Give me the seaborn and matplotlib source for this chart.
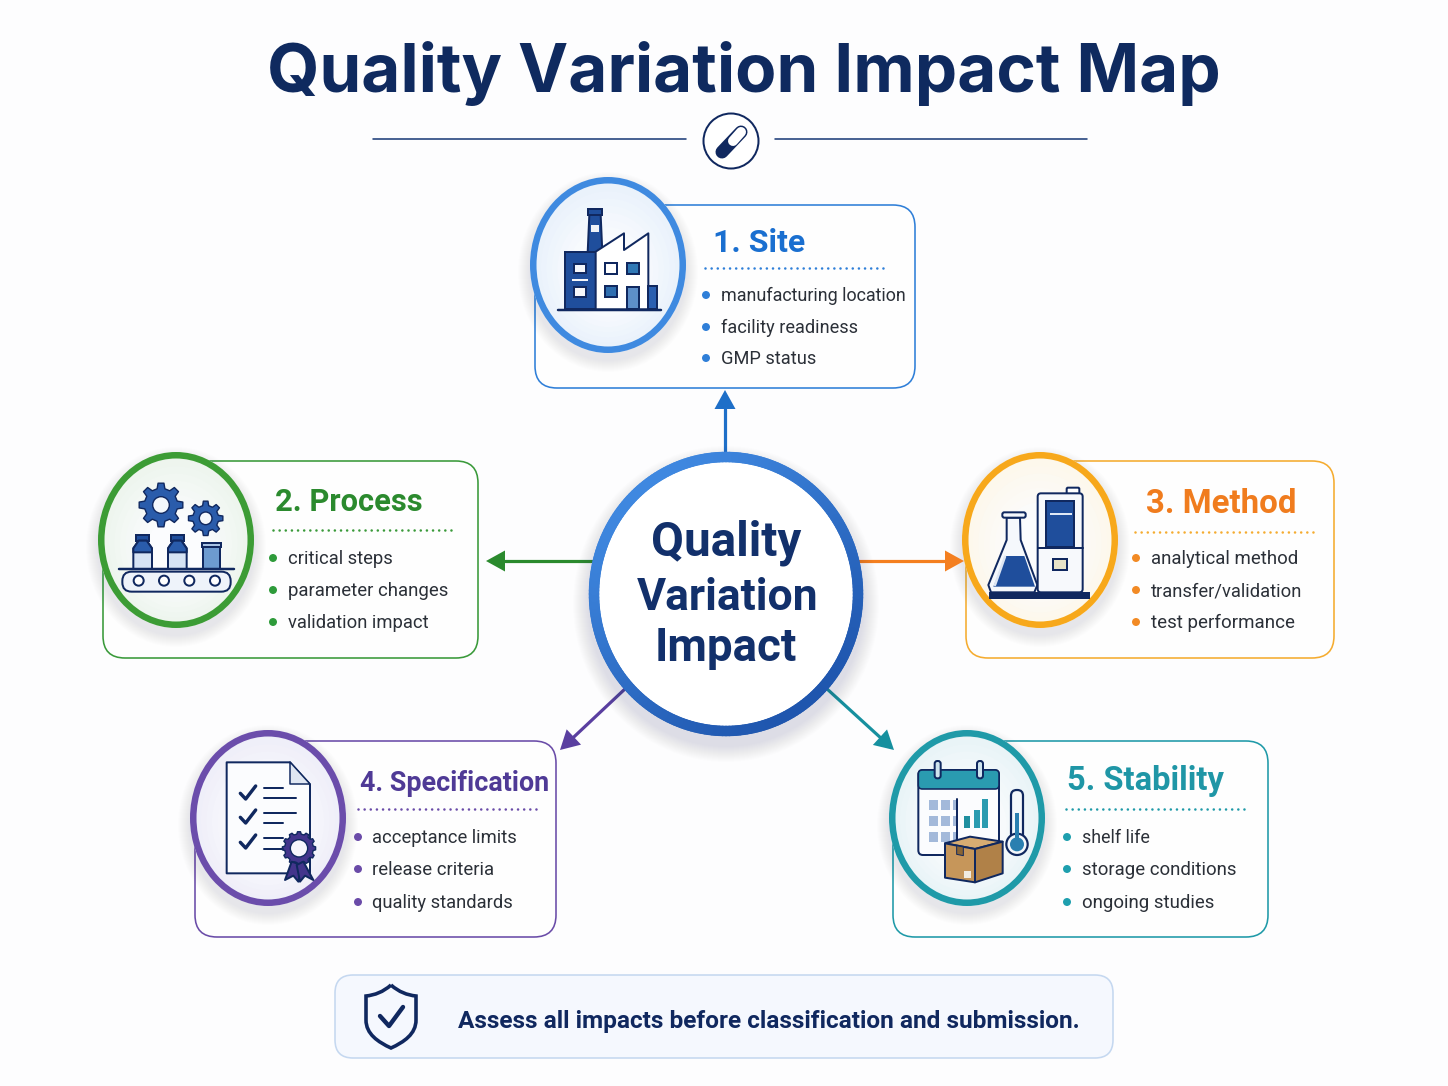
import numpy as np
import pandas as pd
import seaborn as sns
import matplotlib
matplotlib.use("Agg")
import matplotlib.pyplot as plt
from matplotlib.patches import Ellipse, FancyBboxPatch, Polygon, Rectangle, Circle, PathPatch
from matplotlib.path import Path
from matplotlib.collections import LineCollection
from matplotlib.colors import to_rgb

# ---------- content ----------
title = "Quality Variation Impact Map"
center_words = ["Quality", "Variation", "Impact"]
headings = ["1. Site", "2. Process", "3. Method", "4. Specification", "5. Stability"]
bullets_site = ["manufacturing location", "facility readiness", "GMP status"]
bullets_process = ["critical steps", "parameter changes", "validation impact"]
bullets_method = ["analytical method", "transfer/validation", "test performance"]
bullets_spec = ["acceptance limits", "release criteria", "quality standards"]
bullets_stability = ["shelf life", "storage conditions", "ongoing studies"]
footer = "Assess all impacts before classification and submission."

# ---------- styles ----------
BG = "#fdfdfe"
NAVY = "#10285f"; MID = "#1f4e9c"; INK = "#2b3038"
head_col = ["#1a6fd0", "#2b8a2e", "#f07c1e", "#4f3a96", "#1f96a6"]
ring_col = ["#3f8ae0", "#3c9c35", "#f7a81b", "#6b4dab", "#1f9aa8"]
edge_col = ["#2f7fd8", "#3a9a3a", "#f5ac30", "#6a4ca8", "#1f9aa8"]
dot_col = ["#2f7fd8", "#2e9b3a", "#f28a24", "#6a4ba8", "#1e9fae"]
tint = ["#e8f1fb", "#ecf4ec", "#fdf7ea", "#eeedf8", "#e7f3f6"]

sns.set_theme(style="white")
plt.rcParams["font.family"] = ["Inter", "DejaVu Sans"]

fig = plt.figure(figsize=(14.48, 10.86), dpi=100, facecolor=BG)
ax = fig.add_axes([0, 0, 1, 1])
ax.set_facecolor(BG)
renderer = fig.canvas.get_renderer()
px = 0.72


def text_fit(x0, x1, base, s, color, weight="normal", family=None):
    t = ax.text(x0, base, s, color=color, fontweight=weight, ha="left", va="baseline", fontsize=20, zorder=30)
    if family:
        t.set_family(family)
    w = t.get_window_extent(renderer).width
    t.set_fontsize(20 * (x1 - x0) / w)
    return t


def rr(x0, y0, x1, y1, r, fc, ec, lw, z=2):
    ax.add_patch(FancyBboxPatch((x0 + r, y0 + r), x1 - x0 - 2 * r, y1 - y0 - 2 * r,
                                boxstyle=f"round,pad={r}", fc=fc, ec=ec, lw=lw * px, zorder=z))


def shadow(cx, cy, rx, ry, color="#3a4a70", dy=7, n=12, a=0.007, z=3):
    for i in range(n):
        g = n - i
        ax.add_patch(Ellipse((cx, cy + dy), 2 * (rx + g), 2 * (ry + g), fc=color, ec="none", alpha=a, zorder=z))


def lerp(a, b, t):
    a, b = np.array(to_rgb(a)), np.array(to_rgb(b))
    return tuple(a + (b - a) * t)


def badge(cx, cy, rx, ry, col, fill):
    shadow(cx, cy, rx, ry)
    for i in range(10):
        k = 1 - i * 0.07
        ax.add_patch(Ellipse((cx, cy + i), 2 * rx * k, 2 * ry * k, fc=lerp(fill, "#fbfcfe", i / 9), ec="none", zorder=4))
    ax.add_patch(Ellipse((cx, cy), 2 * rx - 6.5, 2 * ry - 6.5, fc="none", ec=col, lw=6.5 * px, zorder=5))


# --- icon helpers: coordinates in a 3x local frame ---
class Icon:
    def __init__(self, ox, oy):
        self.ox, self.oy = ox, oy

    def p(self, x, y):
        return (self.ox + x / 3, self.oy + y / 3)

    def rect(self, x0, y0, x1, y1, fc, ec=NAVY, lw=2, z=10):
        a = self.p(x0, y0); b = self.p(x1, y1)
        ax.add_patch(Rectangle(a, b[0] - a[0], b[1] - a[1], fc=fc, ec=ec, lw=lw * px, zorder=z))

    def rrect(self, x0, y0, x1, y1, r, fc, ec=NAVY, lw=2, z=10):
        a = self.p(x0, y0); b = self.p(x1, y1)
        rr(a[0], a[1], b[0], b[1], r / 3, fc, ec, lw, z)

    def poly(self, pts, fc, ec=NAVY, lw=2, z=10, closed=True):
        ax.add_patch(Polygon([self.p(*q) for q in pts], closed=closed, fc=fc, ec=ec, lw=lw * px, zorder=z, joinstyle="round"))

    def line(self, pts, col=NAVY, lw=2.2, z=12):
        q = np.array([self.p(*v) for v in pts])
        ax.plot(q[:, 0], q[:, 1], color=col, lw=lw * px, zorder=z, solid_capstyle="round", solid_joinstyle="round")

    def circ(self, x, y, r, fc, ec=NAVY, lw=2, z=12):
        ax.add_patch(Circle(self.p(x, y), r / 3, fc=fc, ec=ec, lw=lw * px, zorder=z))

    def gear(self, x, y, ro, ri, hole, n, fc, hole_fc="#f4f8fc", ec=NAVY):
        pts = []
        for k in range(n):
            a = 2 * np.pi * k / n
            d = 2 * np.pi / n
            for off, r in [(-0.30, ri), (-0.17, ro), (0.17, ro), (0.30, ri)]:
                pts.append((x + r * np.cos(a + off * d), y + r * np.sin(a + off * d)))
        self.poly(pts, fc, ec=ec, lw=1.4)
        self.circ(x, y, hole, hole_fc, ec=ec, lw=1.4)


# ---------- title ----------
text_fit(267, 1222, 92, title, "#0f2a5f", "bold")
ax.plot([373, 686], [139, 139], color="#1f3f7a", lw=1.6 * px, zorder=2)
ax.plot([775, 1087], [139, 139], color="#1f3f7a", lw=1.6 * px, zorder=2)
ax.add_patch(Ellipse((731, 141), 55, 55, fc="white", ec=NAVY, lw=2 * px, zorder=3))
ax.plot([741, 722], [132, 152], color=NAVY, lw=13 * px, solid_capstyle="round", zorder=4)
ax.plot([741, 733], [132, 141], color="white", lw=10 * px, solid_capstyle="round", zorder=5)

# ---------- cards ----------
cards = [(535, 205, 915, 388), (103, 461, 478, 658), (966, 461, 1334, 658),
         (195, 741, 556, 937), (893, 741, 1268, 937)]
badges = [(608, 265), (176, 540), (1040, 540), (268, 818), (967, 818)]
head_span = [(713, 805, 252), (275, 422, 511), (1146, 1296, 513), (360, 549, 791), (1067, 1224, 790)]
dots_span = [(705, 888, 268), (273, 455, 530), (1135, 1316, 532), (358, 540, 809), (1066, 1247, 809)]
dot_x = [706, 273, 1136, 358, 1067]
text_x = [721, 288, 1151, 372, 1082]
rows = [(295, 327, 358), (558, 590, 622), (558, 590, 622), (837, 869, 902), (837, 869, 902)]
all_bullets = [bullets_site, bullets_process, bullets_method, bullets_spec, bullets_stability]
widths = [[184, 136, 95], [104, 160, 140], [147, 151, 143], [144, 122, 141], [68, 154, 132]]

bullet_rows = []
for i, (c, b) in enumerate(zip(cards, badges)):
    rr(c[0], c[1], c[2], c[3], 22, "#fefefe", edge_col[i], 1.6, z=2)
    # the card's top-left corner is open behind the badge
    ax.add_patch(Rectangle((c[0] - 3, c[1] - 3), b[0] - c[0] + 3, b[1] - c[1] + 3, fc=BG, ec="none", zorder=2.5))
    badge(b[0], b[1], 78, 88, ring_col[i], tint[i])
    hs = head_span[i]
    text_fit(hs[0], hs[1], hs[2], headings[i], head_col[i], "bold", family="Roboto")
    ds = dots_span[i]
    ax.plot([ds[0], ds[1]], [ds[2], ds[2]], color=edge_col[i], lw=2.6 * px, ls=(0, (0.01, 2.35)), zorder=6,
            dash_capstyle="round")
    for j, label in enumerate(all_bullets[i]):
        text_fit(text_x[i], text_x[i] + widths[i][j], rows[i][j] + 6, label, INK, family="Roboto")
        bullet_rows.append({"x": dot_x[i], "y": rows[i][j], "card": headings[i]})

bullet_df = pd.DataFrame(bullet_rows)
sns.scatterplot(data=bullet_df, x="x", y="y", hue="card", palette=dict(zip(headings, dot_col)),
                s=33, linewidth=0, legend=False, zorder=8, ax=ax)

# ---------- icons ----------
# factory
I = Icon(520, 170)
I.rect(203, 116, 247, 135, MID)
I.poly([(208, 135), (242, 135), (247, 248), (203, 248)], MID)
I.rect(212, 164, 238, 187, "#eef2f8", ec="none")
I.rect(135, 245, 227, 418, MID)
I.rect(163, 282, 198, 310, "#f5f7fb")
I.rect(163, 350, 198, 380, "#f5f7fb")
I.rect(157, 326, 204, 334, "#f5f7fb", ec="none")
I.poly([(227, 245), (312, 190), (312, 240), (385, 190), (385, 418), (227, 418)], "white")
I.rect(256, 280, 290, 313, "white")
I.rect(322, 280, 356, 313, "#2f78b5")
I.rect(256, 348, 290, 381, "#2f6fb0")
I.rect(322, 350, 356, 418, "#5d8fc9")
I.rect(385, 348, 410, 418, "#2a5fb0")
I.line([(115, 420), (422, 420)], lw=2.5)
# process
I = Icon(90, 445)
I.gear(213, 180, 66, 50, 25, 8, "#2a5cab")
I.gear(347, 220, 52, 39, 19, 8, "#2a5cab")
for x in (158, 262):
    I.rect(x - 20, 270, x + 20, 287, MID)
    I.poly([(x - 12, 287), (x + 12, 287), (x + 28, 310), (x + 28, 372), (x - 28, 372), (x - 28, 310)], "#d6e3f4")
    I.poly([(x - 12, 287), (x + 12, 287), (x + 28, 310), (x + 28, 322), (x - 28, 322), (x - 28, 310)], "#2a5cab", z=11)
I.rect(337, 293, 393, 307, "#a8c3e4")
I.rect(340, 307, 389, 372, "#6d9bd0")
I.line([(88, 373), (432, 373)], lw=2.5)
I.rrect(97, 380, 422, 440, 28, "#eef3fa")
for x in (146, 222, 298, 375):
    I.circ(x, 407, 15, "white", lw=2)
# method
I = Icon(955, 445)
I.rect(105, 445, 402, 460, NAVY, z=9)
I.poly([(155, 218), (195, 218), (197, 285), (247, 420), (238, 442), (108, 442), (100, 420), (155, 285)], "#f5f8fc", z=10)
I.poly([(152, 333), (208, 333), (240, 425), (115, 425)], MID, ec="none", z=11)
I.rrect(142, 202, 212, 218, 6, "#f5f8fc", z=12)
I.line([(150, 335), (120, 420)], col="#dde6f3", lw=2.5, z=13)
I.rrect(335, 128, 373, 150, 4, "white", z=9)
I.rrect(248, 145, 383, 442, 10, "#f7f9fc", z=10)
I.rect(272, 167, 358, 307, MID, z=11)
I.rect(285, 204, 350, 209, "#dfe8f5", ec="none", z=12)
I.line([(248, 310), (383, 310)], lw=2, z=12)
I.rect(295, 342, 335, 374, "#e8e4c8", lw=2, z=12)
# specification
I = Icon(185, 725)
I.poly([(125, 112), (315, 112), (375, 178), (375, 445), (125, 445)], "#fbfcfe", lw=2)
I.poly([(315, 112), (315, 178), (375, 178)], "#dfe6f2", lw=1.5, z=11)
for y in (205, 277, 352):
    I.line([(166, y), (182, y + 17), (212, y - 22)], lw=3.4)
for (x0, x1, y) in [(237, 295, 188), (237, 332, 218), (237, 332, 265), (237, 295, 295), (237, 295, 340), (237, 295, 372)]:
    I.line([(x0, y), (x1, y)], lw=2)
I.poly([(320, 410), (300, 465), (325, 452), (340, 470), (350, 420)], "#43358c", z=13)
I.poly([(355, 410), (385, 465), (360, 452), (345, 470), (335, 420)], "#43358c", z=13)
I.gear(342, 370, 50, 43, 26, 12, "#43358c", hole_fc="#f7f6fc")
# stability
I = Icon(880, 725)
I.rrect(115, 135, 357, 390, 14, "#fbfcfe", lw=2)
I.rrect(115, 135, 357, 192, 12, "#2a9bb0", lw=1.6, z=11)
I.rrect(164, 108, 182, 160, 8, "#cfe4ee", z=12)
I.rrect(291, 108, 309, 160, 8, "#cfe4ee", z=12)
for x0, x1 in [(147, 173), (183, 209), (219, 229)]:
    for y0 in (225, 272, 320):
        I.rect(x0, y0, x1, y0 + 30, "#a3b9da", ec="none", z=11)
I.line([(232, 222), (232, 350)], lw=2, z=12)
I.rect(253, 272, 270, 310, "#1f8f9f", ec="none", z=11)
I.rect(281, 255, 299, 310, "#2a9bb0", ec="none", z=11)
I.rect(307, 223, 325, 310, "#2a9bb0", ec="none", z=11)
I.poly([(195, 355), (270, 335), (368, 350), (285, 372)], "#d7ac72", z=14)
I.poly([(195, 355), (285, 372), (285, 472), (195, 458)], "#c6965a", z=14)
I.poly([(285, 372), (368, 350), (368, 445), (285, 472)], "#b08148", z=14)
I.poly([(230, 362), (250, 366), (250, 392), (230, 388)], "#8a6534", lw=1, z=15)
I.rect(252, 438, 274, 458, "#f1ece2", ec="none", z=15)
I.rrect(393, 195, 429, 345, 17, "#f4f8fb", lw=2.2, z=11)
I.circ(411, 358, 32, "#f4f8fb", lw=2.2, z=11)
I.rect(404, 265, 418, 345, "#2a7fb0", ec="none", z=12)
I.circ(411, 358, 21, "#2a7fb0", ec="none", z=12)


# ---------- arrows ----------
def arrow(x0, y0, x1, y1, col, hl=19, hw=21, lw=3.2):
    d = np.array([x1 - x0, y1 - y0], float)
    d /= np.hypot(*d)
    n = np.array([-d[1], d[0]])
    tip = np.array([x1, y1], float)
    base = tip - d * hl
    ax.plot([x0, base[0]], [y0, base[1]], color=col, lw=lw * px, zorder=7)
    ax.add_patch(Polygon([tip, base + n * hw / 2, base - n * hw / 2], fc=col, ec="none", zorder=7))


arrow(725, 464, 725, 390, "#1e6fc8")
arrow(594, 561, 486, 561, "#2b8a2e")
arrow(858, 561, 964, 561, "#f47f20")
arrow(626, 688, 560, 750, "#5a3fa0")
arrow(826, 688, 894, 750, "#16909f")

# ---------- centre ----------
shadow(726, 594, 137, 142, dy=10, n=16, a=0.008, z=8)
ax.add_patch(Ellipse((726, 594), 270, 280, fc="white", ec="none", zorder=9))
th = np.linspace(0, 2 * np.pi, 241)
xs = 726 + 132 * np.cos(th)
ys = 594 + 137 * np.sin(th)
segs = [[(xs[k], ys[k]), (xs[k + 1], ys[k + 1])] for k in range(240)]
shade = (np.cos(th[:-1] - np.deg2rad(55)) + 1) / 2
cols = [lerp("#3f88e0", "#1f56ae", v) for v in shade]
ax.add_collection(LineCollection(segs, colors=cols, linewidths=10.5 * px, capstyle="round", zorder=10))
text_fit(651, 801, 556, center_words[0], "#12306b", "bold", family="Roboto")
text_fit(637, 818, 610, center_words[1], "#12306b", "bold", family="Roboto")
text_fit(655, 797, 661, center_words[2], "#12306b", "bold", family="Roboto")

# ---------- footer ----------
rr(335, 975, 1113, 1058, 18, "#f5f8fe", "#c5d8f0", 1.6, z=2)
verts = [(391, 985), (383, 992), (375, 995), (366, 996), (366, 1020), (366, 1034), (378, 1042), (391, 1048),
         (404, 1042), (416, 1034), (416, 1020), (416, 996), (407, 995), (399, 992), (391, 985)]
codes = [Path.MOVETO, Path.CURVE4, Path.CURVE4, Path.CURVE4, Path.LINETO, Path.CURVE4, Path.CURVE4, Path.CURVE4,
         Path.CURVE4, Path.CURVE4, Path.CURVE4, Path.LINETO, Path.CURVE4, Path.CURVE4, Path.CURVE4]
ax.add_patch(PathPatch(Path(verts, codes), fc="none", ec=NAVY, lw=3.6 * px, zorder=5))
ax.plot([380, 389, 403], [1016, 1026, 1007], color=NAVY, lw=4.4 * px, zorder=6, solid_capstyle="round")
text_fit(458, 1079, 1028, footer, NAVY, "bold", family="Roboto")

ax.set_xlim(0, 1448)
ax.set_ylim(1086, 0)
ax.set_xlabel(""); ax.set_ylabel("")
ax.axis("off")
fig.savefig("out.png", dpi=100, facecolor=fig.get_facecolor())
